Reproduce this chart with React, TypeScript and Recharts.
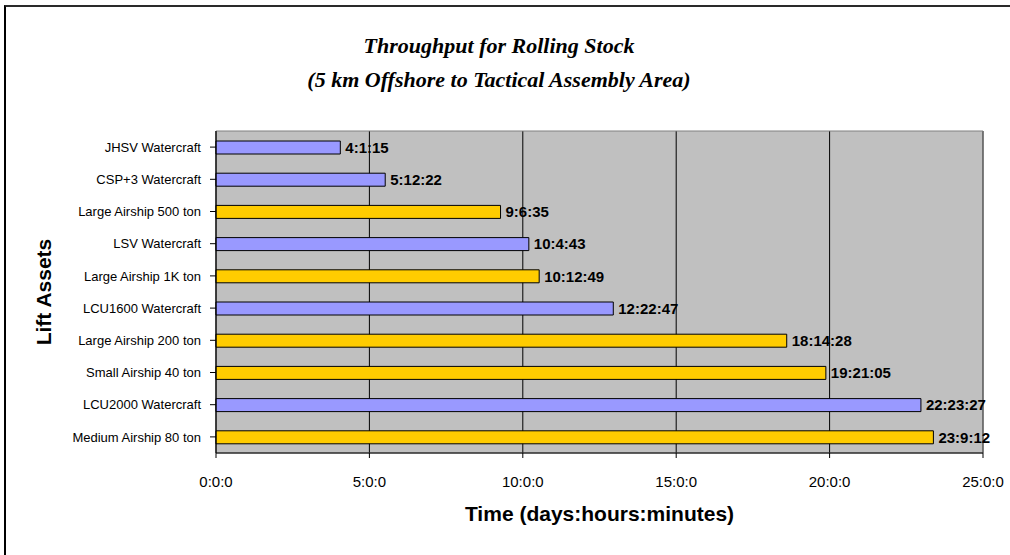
import { Bar, BarChart, CartesianGrid, Cell, LabelList, ReferenceArea, XAxis, YAxis } from "recharts";

// lift assets, top to bottom as in the chart
const assets = [
  "JHSV Watercraft",
  "CSP+3 Watercraft",
  "Large Airship 500 ton",
  "LSV Watercraft",
  "Large Airship 1K ton",
  "LCU1600 Watercraft",
  "Large Airship 200 ton",
  "Small Airship 40 ton",
  "LCU2000 Watercraft",
  "Medium Airship 80 ton",
];
const kinds = [
  "watercraft",
  "watercraft",
  "airship",
  "watercraft",
  "airship",
  "watercraft",
  "airship",
  "airship",
  "watercraft",
  "airship",
];
// throughput time in days
const days = [4.0521, 5.5153, 9.2743, 10.1965, 10.534, 12.9493, 18.6028, 19.8785, 22.977, 23.3833];
// printed labels (days:hours:minutes)
const timeLabels = [
  "4:1:15",
  "5:12:22",
  "9:6:35",
  "10:4:43",
  "10:12:49",
  "12:22:47",
  "18:14:28",
  "19:21:05",
  "22:23:27",
  "23:9:12",
];
const xTicks = [0, 5, 10, 15, 20, 25];

const kindColor: Record<string, string> = {
  watercraft: "#9999FF",
  airship: "#FFCC00",
};

const data = assets.map((name, i) => ({
  name,
  kind: kinds[i],
  days: days[i],
  label: timeLabels[i],
}));

const sans = "'Liberation Sans', Arial, sans-serif";
const serif = "'Liberation Serif', 'DejaVu Serif', serif";

export default function App() {
  return (
    <div style={{ position: "absolute", left: 0, top: 0, width: 1010, height: 555, background: "#fff", overflow: "hidden" }}>
      <div
        style={{
          position: "absolute",
          left: 4,
          top: 5,
          width: 1100,
          height: 600,
          borderTop: "2px solid #2a2a2a",
          borderLeft: "2px solid #000",
        }}
      />
      <svg width={1010} height={110} style={{ position: "absolute", left: 0, top: 0 }}>
        <text
          x={499}
          y={53}
          textAnchor="middle"
          fontFamily={serif}
          fontStyle="italic"
          fontWeight="bold"
          fontSize={22}
          fill="#000"
        >
          Throughput for Rolling Stock
        </text>
        <text
          x={499}
          y={87}
          textAnchor="middle"
          fontFamily={serif}
          fontStyle="italic"
          fontWeight="bold"
          fontSize={22}
          fill="#000"
        >
          (5 km Offshore to Tactical Assembly Area)
        </text>
      </svg>
      <div style={{ position: "absolute", left: 0, top: 0 }}>
        <BarChart
          width={1010}
          height={555}
          data={data}
          layout="vertical"
          margin={{ top: 131, right: 27, bottom: 52, left: 0 }}
          barCategoryGap={0}
        >
          <CartesianGrid horizontal={false} stroke="#000" fill="#C0C0C0" />
          <ReferenceArea x1={0} x2={25} fill="none" stroke="#808080" strokeWidth={1} fillOpacity={0} />
          <XAxis
            type="number"
            dataKey="days"
            domain={[0, 25]}
            ticks={xTicks}
            tickFormatter={(v: number) => `${v}:0:0`}
            tick={{ fill: "#000", fontSize: 15, fontFamily: sans }}
            tickSize={5}
            tickMargin={18}
            stroke="#000"
            height={50}
            interval={0}
            label={{
              value: "Time (days:hours:minutes)",
              position: "bottom",
              offset: 3,
              fill: "#000",
              fontSize: 21,
              fontWeight: "bold",
              fontFamily: sans,
            }}
          />
          <YAxis
            type="category"
            dataKey="name"
            width={216}
            tick={{ fill: "#000", fontSize: 13, fontFamily: sans }}
            tickSize={6}
            tickMargin={9}
            stroke="#000"
            interval={0}
            label={{
              value: "Lift Assets",
              angle: -90,
              position: "insideLeft",
              offset: 44,
              fill: "#000",
              fontSize: 21,
              fontWeight: "bold",
              fontFamily: sans,
              style: { textAnchor: "middle" },
            }}
          />
          <Bar dataKey="days" barSize={13} stroke="#000" strokeWidth={1} isAnimationActive={false}>
            {data.map((d) => (
              <Cell key={d.name} fill={kindColor[d.kind]} />
            ))}
            <LabelList
              dataKey="label"
              position="right"
              offset={5}
              fill="#000"
              fontSize={15}
              fontWeight="bold"
              fontFamily={sans}
            />
          </Bar>
        </BarChart>
      </div>
    </div>
  );
}
